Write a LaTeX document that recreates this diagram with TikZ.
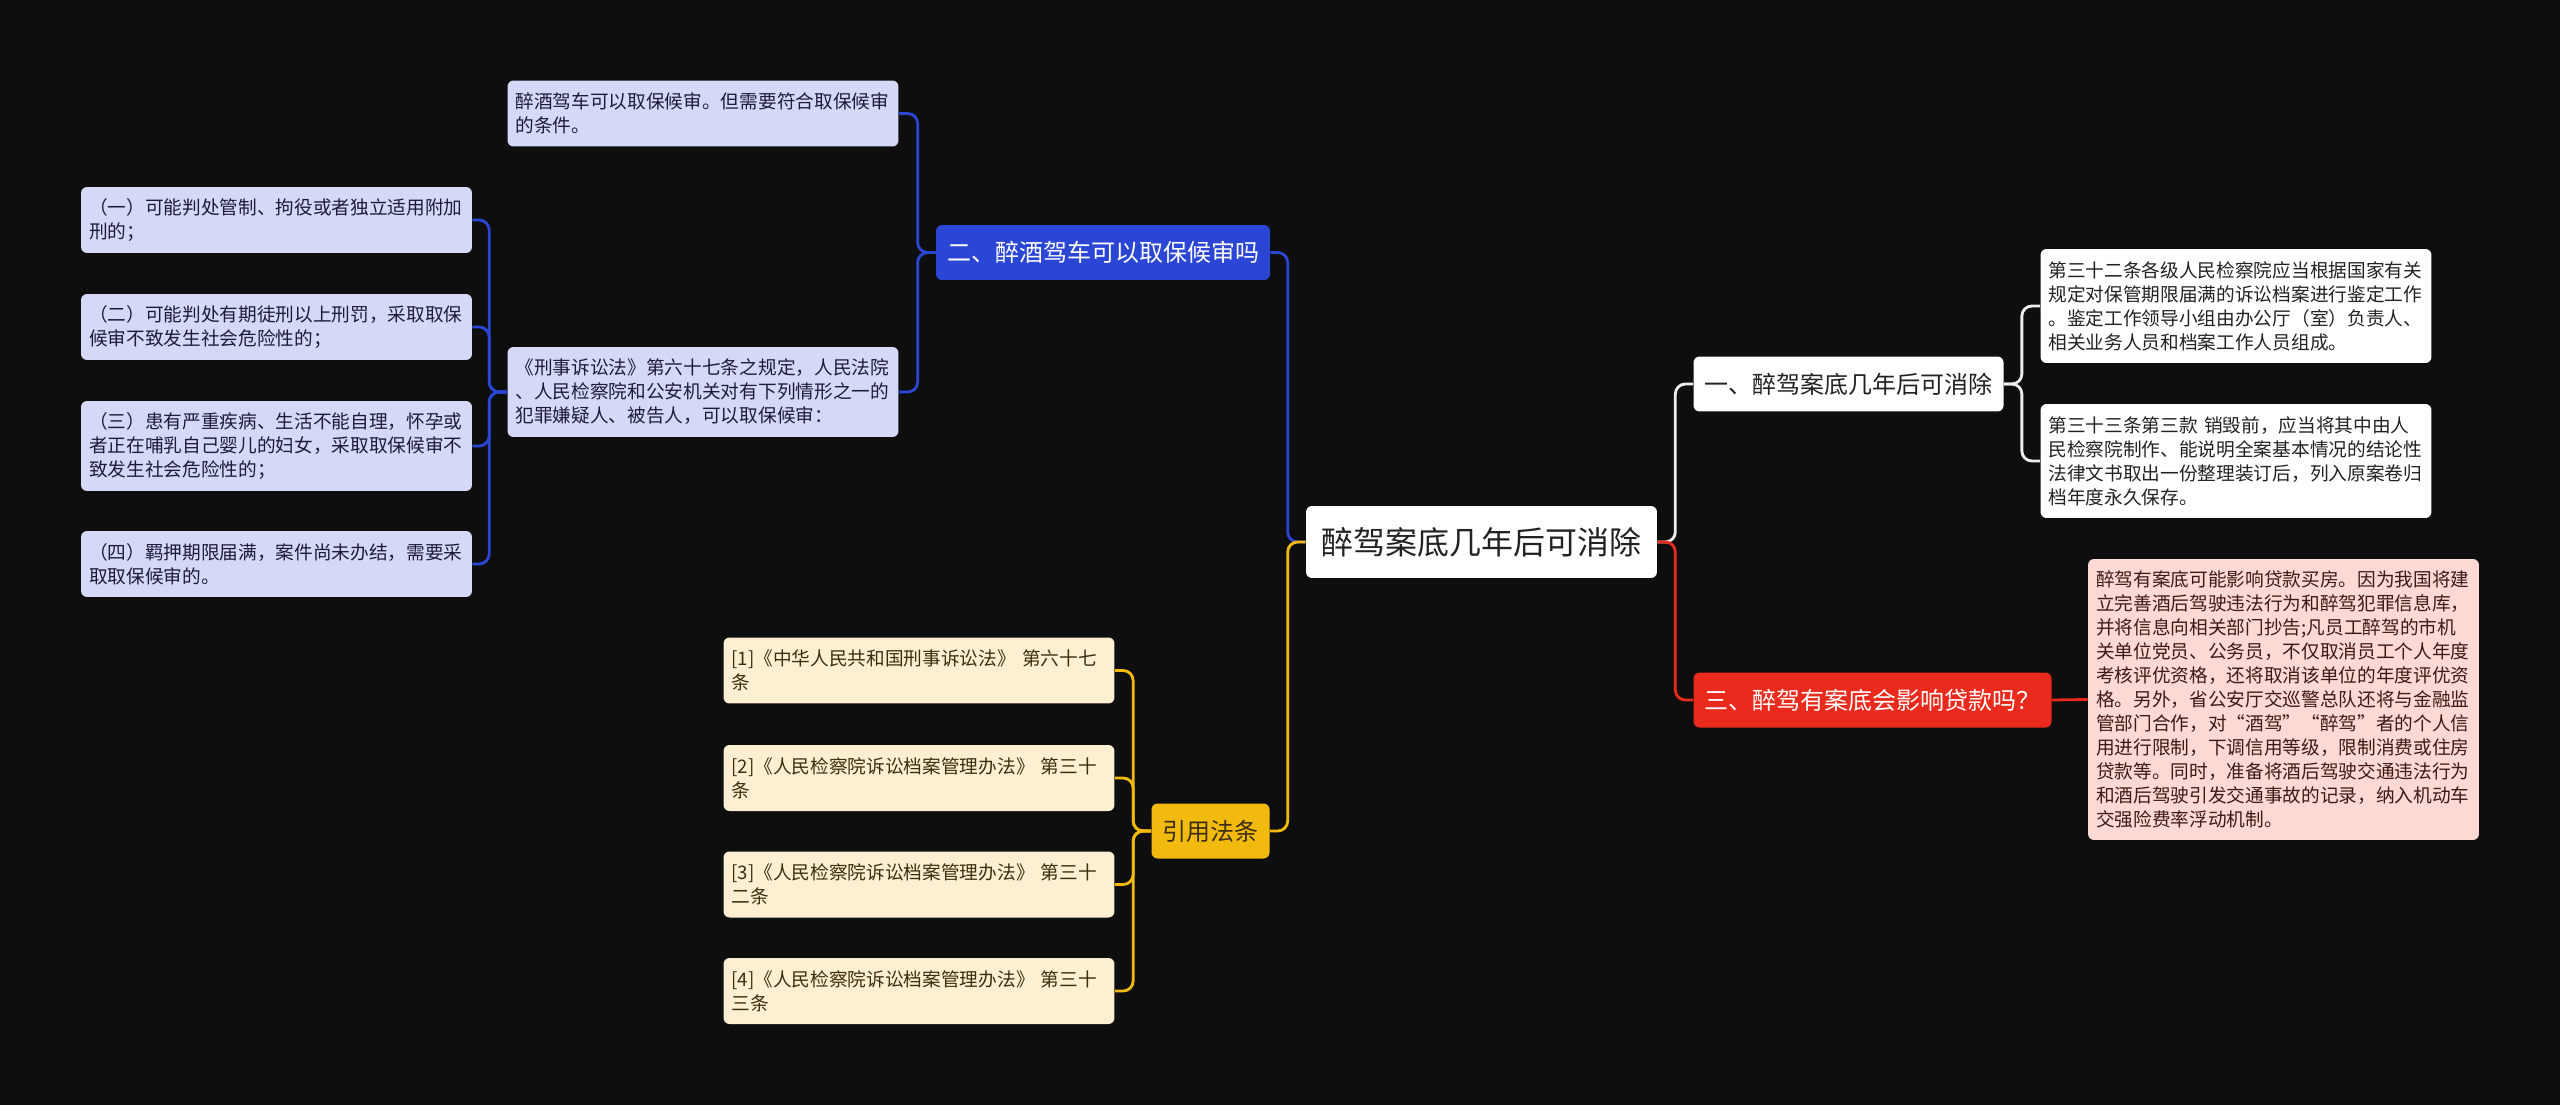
\documentclass[tikz,border=0pt]{standalone}
\usepackage{fontspec}
\setmainfont{Noto Sans CJK SC}
\usepackage{xcolor}

\definecolor{bg}{HTML}{0E0E0E}
\definecolor{bblue}{HTML}{2B45D4}
\definecolor{lblue}{HTML}{D5D9F7}
\definecolor{tblue}{HTML}{1C1C3A}
\definecolor{bgold}{HTML}{F2B90F}
\definecolor{lgold}{HTML}{FDF0D2}
\definecolor{tgold}{HTML}{3B2F10}
\definecolor{bred}{HTML}{EA2A1C}
\definecolor{lred}{HTML}{FDD8D5}
\definecolor{tred}{HTML}{3D1A17}
\definecolor{wline}{HTML}{EDEDED}
\definecolor{tdark}{HTML}{222222}

\tikzset{
  box/.style={rounded corners=0.12cm, align=left, inner ysep=0.08cm},
  leaf/.style={box, text width=7.5cm, inner xsep=0.16cm,
    font=\fontsize{10.63pt}{13.66pt}\selectfont},
  branch/.style={box, align=center, minimum height=1.1cm, inner xsep=0.22cm,
    font=\fontsize{13.66pt}{16pt}\selectfont},
  two/.style={minimum height=1.32cm},
  three/.style={minimum height=1.8cm},
  four/.style={minimum height=2.28cm},
  wire/.style={line width=1.6pt, rounded corners=0.2cm}
}

\begin{document}
\begin{tikzpicture}[x=0.02cm, y=-0.02cm]
\useasboundingbox (0,0) rectangle (2560,1105);
\fill[bg] (0,0) rectangle (2560,1105);

\node[box, fill=white, text=tdark, align=center, minimum width=7.02cm, minimum height=1.44cm,
  font=\fontsize{18.2pt}{22pt}\selectfont] (root) at (1481.5,542) {醉驾案底几年后可消除};

% right side
\node[branch, fill=white, text=tdark] (b1) at (1848.5,384) {一、醉驾案底几年后可消除};
\node[leaf, four, fill=white, text=tdark] (b1a) at (2236,306)
  {第三十二条各级人民检察院应当根据国家有关\\规定对保管期限届满的诉讼档案进行鉴定工作\\。鉴定工作领导小组由办公厅（室）负责人、\\相关业务人员和档案工作人员组成。};
\node[leaf, four, fill=white, text=tdark] (b1b) at (2236,461)
  {第三十三条第三款 销毁前，应当将其中由人\\民检察院制作、能说明全案基本情况的结论性\\法律文书取出一份整理装订后，列入原案卷归\\档年度永久保存。};

\node[branch, fill=bred, text=white] (b3) at (1872.5,700) {三、醉驾有案底会影响贷款吗？};
\node[leaf, fill=lred, text=tred, minimum height=5.62cm] (b3a) at (2283.5,699.5)
  {醉驾有案底可能影响贷款买房。因为我国将建\\立完善酒后驾驶违法行为和醉驾犯罪信息库，\\并将信息向相关部门抄告;凡员工醉驾的市机\\关单位党员、公务员，不仅取消员工个人年度\\考核评优资格，还将取消该单位的年度评优资\\格。另外，省公安厅交巡警总队还将与金融监\\管部门合作，对“酒驾”“醉驾”者的个人信\\用进行限制，下调信用等级，限制消费或住房\\贷款等。同时，准备将酒后驾驶交通违法行为\\和酒后驾驶引发交通事故的记录，纳入机动车\\交强险费率浮动机制。};

% left side
\node[branch, fill=bblue, text=white] (b2) at (1103,252.5) {二、醉酒驾车可以取保候审吗};
\node[leaf, two, fill=lblue, text=tblue] (b2a) at (703,113.5)
  {醉酒驾车可以取保候审。但需要符合取保候审\\的条件。};
\node[leaf, three, fill=lblue, text=tblue] (b2b) at (703,392)
  {《刑事诉讼法》第六十七条之规定，人民法院\\、人民检察院和公安机关对有下列情形之一的\\犯罪嫌疑人、被告人，可以取保候审：};
\node[leaf, two, fill=lblue, text=tblue] (c1) at (276.5,220)
  {（一）可能判处管制、拘役或者独立适用附加\\刑的；};
\node[leaf, two, fill=lblue, text=tblue] (c2) at (276.5,327)
  {（二）可能判处有期徒刑以上刑罚，采取取保\\候审不致发生社会危险性的；};
\node[leaf, three, fill=lblue, text=tblue] (c3) at (276.5,446)
  {（三）患有严重疾病、生活不能自理，怀孕或\\者正在哺乳自己婴儿的妇女，采取取保候审不\\致发生社会危险性的；};
\node[leaf, two, fill=lblue, text=tblue] (c4) at (276.5,564)
  {（四）羁押期限届满，案件尚未办结，需要采\\取取保候审的。};

\node[branch, fill=bgold, text=tgold] (b4) at (1210.5,831) {引用法条};
\node[leaf, two, fill=lgold, text=tgold] (r1) at (919,670.5)
  {[1]《中华人民共和国刑事诉讼法》 第六十七\\条};
\node[leaf, two, fill=lgold, text=tgold] (r2) at (919,778)
  {[2]《人民检察院诉讼档案管理办法》 第三十\\条};
\node[leaf, two, fill=lgold, text=tgold] (r3) at (919,884.5)
  {[3]《人民检察院诉讼档案管理办法》 第三十\\二条};
\node[leaf, two, fill=lgold, text=tgold] (r4) at (919,991)
  {[4]《人民检察院诉讼档案管理办法》 第三十\\三条};

% connectors
\draw[wire, wline] (root.east) -- ++(18,0) |- (b1.west);
\draw[wire, bred] (root.east) -- ++(18,0) |- (b3.west);
\draw[wire, wline] (b1.east) -- ++(18,0) |- (b1a.west);
\draw[wire, wline] (b1.east) -- ++(18,0) |- (b1b.west);
\draw[wire, bred] (b3.east) -- (b3a.west);

\draw[wire, bblue] (root.west) -- ++(-18,0) |- (b2.east);
\draw[wire, bgold] (root.west) -- ++(-18,0) |- (b4.east);
\draw[wire, bblue] (b2.west) -- ++(-18,0) |- (b2a.east);
\draw[wire, bblue] (b2.west) -- ++(-18,0) |- (b2b.east);
\foreach \c in {c1,c2,c3,c4}
  \draw[wire, bblue] (b2b.west) -- ++(-18,0) |- (\c.east);
\foreach \r in {r1,r2,r3,r4}
  \draw[wire, bgold] (b4.west) -- ++(-18,0) |- (\r.east);
\end{tikzpicture}
\end{document}
